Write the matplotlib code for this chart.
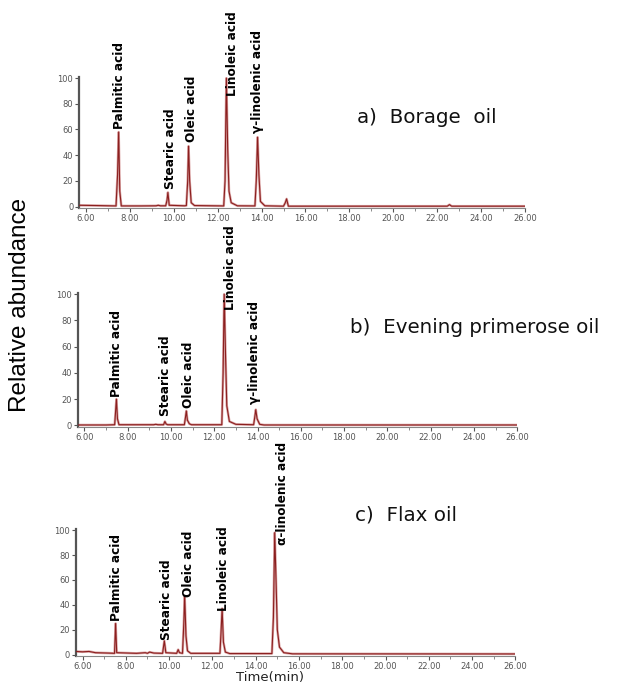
import numpy as np
import matplotlib.pyplot as plt
from matplotlib.ticker import MultipleLocator, FormatStrFormatter

plt.rcParams['font.family'] = ['DejaVu Sans']

# chromatogram traces: (retention time in min, relative abundance)
trace_borage = [(5.7, 1), (6.5, 0.8), (7.38, 0.5), (7.45, 25), (7.50, 58), (7.55, 12), (7.62, 0.5),
                (8.5, 0.5), (9.2, 0.6), (9.3, 1), (9.4, 0.6), (9.64, 0.6), (9.70, 5), (9.74, 11),
                (9.80, 1), (10.5, 0.6), (10.58, 0.8), (10.64, 20), (10.68, 47), (10.73, 20), (10.80, 3),
                (10.95, 0.8), (12.28, 0.5), (12.34, 20), (12.40, 100), (12.46, 45), (12.52, 12),
                (12.62, 3), (12.9, 0.6), (13.7, 0.5), (13.76, 20), (13.82, 54), (13.88, 25), (13.95, 4),
                (14.15, 0.6), (15.0, 0.3), (15.08, 3), (15.14, 6), (15.22, 0.3), (22.45, 0.3),
                (22.55, 1.5), (22.65, 0.3), (26.0, 0.3)]
trace_primrose = [(5.7, 0.3), (7.0, 0.3), (7.40, 0.5), (7.44, 10), (7.48, 20), (7.53, 5), (7.6, 0.5),
                  (9.2, 0.5), (9.3, 0.8), (9.4, 0.5), (9.66, 0.5), (9.72, 3), (9.78, 1), (9.85, 0.5),
                  (10.62, 0.5), (10.67, 6), (10.71, 11), (10.76, 4), (10.85, 1.2), (10.95, 0.5),
                  (12.35, 0.5), (12.41, 40), (12.46, 100), (12.52, 55), (12.58, 15), (12.7, 3),
                  (13.0, 0.8), (13.82, 0.5), (13.87, 6), (13.92, 12), (13.98, 5), (14.1, 0.8),
                  (14.3, 0.3), (26.0, 0.3)]
trace_flax = [(5.7, 2.5), (6.0, 2.2), (6.3, 2.5), (6.6, 1.5), (7.2, 1.2), (7.48, 1), (7.53, 25),
              (7.58, 1.5), (8.5, 1), (8.9, 1.5), (9.0, 1), (9.1, 2), (9.3, 1.2), (9.7, 1), (9.78, 11),
              (9.85, 1.5), (10.35, 1), (10.42, 4), (10.48, 1.5), (10.62, 1), (10.68, 25), (10.72, 47),
              (10.78, 15), (10.85, 3), (11.0, 1), (12.35, 1), (12.40, 18), (12.45, 37), (12.51, 10),
              (12.6, 2), (12.8, 0.8), (14.75, 0.8), (14.82, 30), (14.88, 98), (14.94, 60), (15.0, 20),
              (15.1, 6), (15.3, 1.5), (15.7, 0.6), (26.0, 0.5)]

titles = ['a)  Borage  oil', 'b)  Evening primerose oil', 'c)  Flax oil']

names_a = ['Palmitic acid', 'Stearic acid', 'Oleic acid', 'Linoleic acid', 'γ-linolenic acid']
names_c = ['Palmitic acid', 'Stearic acid', 'Oleic acid', 'Linoleic acid', 'α-linolenic acid']

# label anchor (x, y) in data units
lab_borage = [(7.55, 60), (9.86, 14), (10.8, 50), (12.68, 86), (13.82, 57)]
lab_primrose = [(7.47, 22), (9.73, 7), (10.8, 13), (12.77, 88), (13.88, 16)]
lab_flax = [(7.58, 27), (9.86, 12), (10.88, 46), (12.5, 35), (15.26, 88)]

fig = plt.figure(figsize=(6.18, 6.86), dpi=100)

# [left, bottom, width, height], title pos (fig coords)
panels = [
    (trace_borage, names_a, lab_borage, [0.128, 0.697, 0.722, 0.191], (0.578, 0.828)),
    (trace_primrose, names_a, lab_primrose, [0.126, 0.378, 0.711, 0.195], (0.566, 0.523)),
    (trace_flax, names_c, lab_flax, [0.123, 0.044, 0.711, 0.185], (0.574, 0.249)),
]

for i, (tr, names, labs, rect, tpos) in enumerate(panels):
    ax = fig.add_axes(rect)
    t, y = zip(*tr)
    ax.plot(t, y, color='#dba5a5', lw=1.8, zorder=2)
    ax.plot(t, y, color='#8b1f1f', lw=0.8, zorder=3)
    ax.set_xlim(5.7, 26.0)
    ax.set_ylim(-1, 101)
    ax.xaxis.set_minor_locator(MultipleLocator(1))
    ax.xaxis.set_major_formatter(FormatStrFormatter('%.2f'))
    ax.yaxis.set_major_locator(MultipleLocator(20))
    ax.tick_params(axis='both', labelsize=6, colors='#555555', length=3, width=0.8, pad=1.2)
    ax.tick_params(axis='x', which='minor', length=2, colors='#777777')
    ax.set_xticks(np.arange(6, 26.1, 2))
    for s in ['top', 'right']:
        ax.spines[s].set_visible(False)
    ax.spines['left'].set_color('#555555')
    ax.spines['left'].set_linewidth(1.6)
    ax.spines['bottom'].set_color('#888888')
    ax.spines['bottom'].set_linewidth(0.8)
    ax.patch.set_alpha(0)
    for nm, (lx, ly) in zip(names, labs):
        ax.text(lx, ly, nm, rotation=90, ha='center', va='bottom', fontsize=8.7,
                fontweight='bold', color='black', clip_on=False)
    fig.text(tpos[0], tpos[1], titles[i], fontsize=14.3, ha='left', va='center', color='#111111')

fig.text(0.033, 0.555, 'Relative abundance', rotation=90, fontsize=17.5, ha='center', va='center',
         family='Liberation Sans')
fig.text(0.437, 0.003, 'Time(min)', fontsize=9.5, ha='center', va='bottom', color='#222222')

fig.savefig('out.png', dpi=100)
